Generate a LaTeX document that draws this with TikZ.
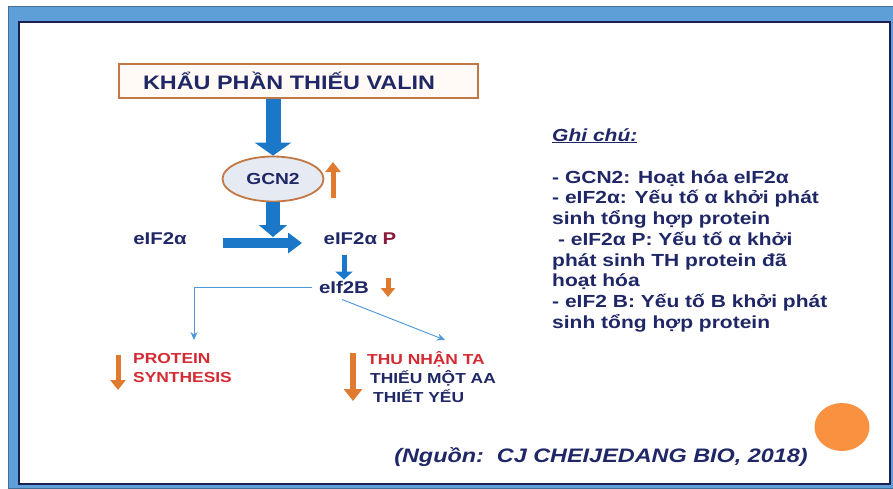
\documentclass[tikz,border=0pt]{standalone}
\usepackage{fontspec}
\setmainfont{Liberation Sans}[FakeStretch=1.2]
\usetikzlibrary{arrows.meta,positioning,shapes.geometric,calc}
\definecolor{navy}{HTML}{1F2766}
\definecolor{flowblue}{HTML}{1B78C8}
\definecolor{thinblue}{HTML}{4A97DA}
\definecolor{ochre}{HTML}{E07A2E}
\definecolor{edgebrown}{HTML}{C27845}
\definecolor{frameblue}{HTML}{5E9FD8}
\definecolor{alertred}{HTML}{D42A32}
\definecolor{maroon}{HTML}{8A1B3C}
\definecolor{dotorange}{HTML}{F99240}
\definecolor{ovalfill}{HTML}{E6EAF2}

\tikzset{
  term/.style={font=\bfseries\fontsize{17}{20}\selectfont, text=navy, inner sep=1pt},
  bigarrow/.style={draw=flowblue, line width=#1},
  ochrearrow/.style={draw=ochre, line width=5pt},
  thinarrow/.style={draw=thinblue, line width=0.9pt, -{Stealth[length=8pt,width=7pt]}}
}

\begin{document}
\begin{tikzpicture}[x=1pt, y=-1pt]
  \useasboundingbox (0,0) rectangle (893,488);
  % slide frame
  \fill[frameblue] (8,6) rectangle (893,488);
  \draw[frameblue!70!black, line width=0.6pt] (8,6) rectangle (893,488);
  \fill[white] (19,22) rectangle (890,484);
  \draw[navy!80!black, line width=1.6pt] (19,22) rectangle (890,484);

  % flow
  \node[draw=edgebrown, fill=orange!4, line width=1.8pt, minimum height=34pt, inner xsep=24pt,
        text width=311pt, align=left, font=\bfseries\fontsize{19.5}{22}\selectfont, text=navy] (title) at (298.5,81) {KHẨU PHẦN THIẾU VALIN};
  \node[ellipse, draw=edgebrown, fill=ovalfill, line width=1.8pt, minimum width=101pt, minimum height=45pt,
        font=\bfseries\fontsize{16}{18}\selectfont, text=navy] (gcn) at (273,179) {GCN2};
  \node[term] (ea) at (160,239) {eIF2α};
  \node[term] (eap) at (360,239) {eIF2α \textcolor{maroon}{P}};
  \node[term] (eb) at (344,287) {eIf2B};
  \coordinate (hit) at (273,237);
  \coordinate (psin) at (194,340);
  \coordinate (tain) at (445,340);

  \draw[bigarrow=15pt, -{Triangle[length=13pt,width=36pt]}] (title.south -| gcn.north) -- (gcn.north);
  \draw[bigarrow=14pt, -{Triangle[length=12pt,width=28pt]}] (gcn.south) -- (hit);
  \draw[bigarrow=10pt, -{Triangle[length=14pt,width=20pt]}] (223,243) -- (302,243);
  \draw[bigarrow=5pt, -{Triangle[length=8pt,width=17pt]}] (eb.north |- 0,255) -- (eb.north);
  \draw[thinarrow] ([xshift=-6pt]eb.west) -| (psin);
  \draw[thinarrow] ([xshift=-2pt,yshift=-5pt]eb.south) -- (tain);

  % up / down marks
  \draw[ochrearrow, -{Triangle[length=10pt,width=15pt]}] (333,198) -- (333,162);
  \draw[ochrearrow, -{Triangle[length=9pt,width=14pt]}] (388,278) -- (388,297);
  \draw[ochrearrow, -{Triangle[length=10pt,width=15pt]}] (118,355) -- (118,390);
  \draw[ochrearrow, line width=6pt, -{Triangle[length=12pt,width=18pt]}] (353,353) -- (353,401);

  % outcomes
  \node[anchor=north west, align=left, inner sep=0pt, text=alertred,
        font=\bfseries\fontsize{14.5}{19}\selectfont] (ps) at (133,353) {PROTEIN\\SYNTHESIS};
  \node[anchor=north west, align=left, inner sep=0pt, text=navy,
        font=\bfseries\fontsize{14.5}{19}\selectfont] (ta) at (367,351)
        {\textcolor{alertred}{THU NHẬN TA}\\\hspace*{3pt}THIẾU MỘT AA\\\hspace*{6pt}THIẾT YẾU};

  % legend
  \node[anchor=north west, align=left, inner sep=0pt, text=navy,
        font=\bfseries\fontsize{17.5}{20.7}\selectfont] (note) at (552,128)
        {\underline{\textit{Ghi chú:}}\\[21.5pt]
         - GCN2: Hoạt hóa eIF2α\\
         - eIF2α: Yếu tố α khởi phát\\
         sinh tổng hợp protein\\
         \ - eIF2α P: Yếu tố α khởi\\
         phát sinh TH protein đã\\
         hoạt hóa\\
         - eIF2 B: Yếu tố B khởi phát\\
         sinh tổng hợp protein};

  \node[ellipse, fill=dotorange, minimum width=55pt, minimum height=48pt] (dot) at (842,427) {};
  \node[font=\bfseries\itshape\fontsize{19.5}{22}\selectfont, text=navy] (src) at (601,457)
        {(Nguồn:\ \ CJ CHEIJEDANG BIO, 2018)};
\end{tikzpicture}
\end{document}
